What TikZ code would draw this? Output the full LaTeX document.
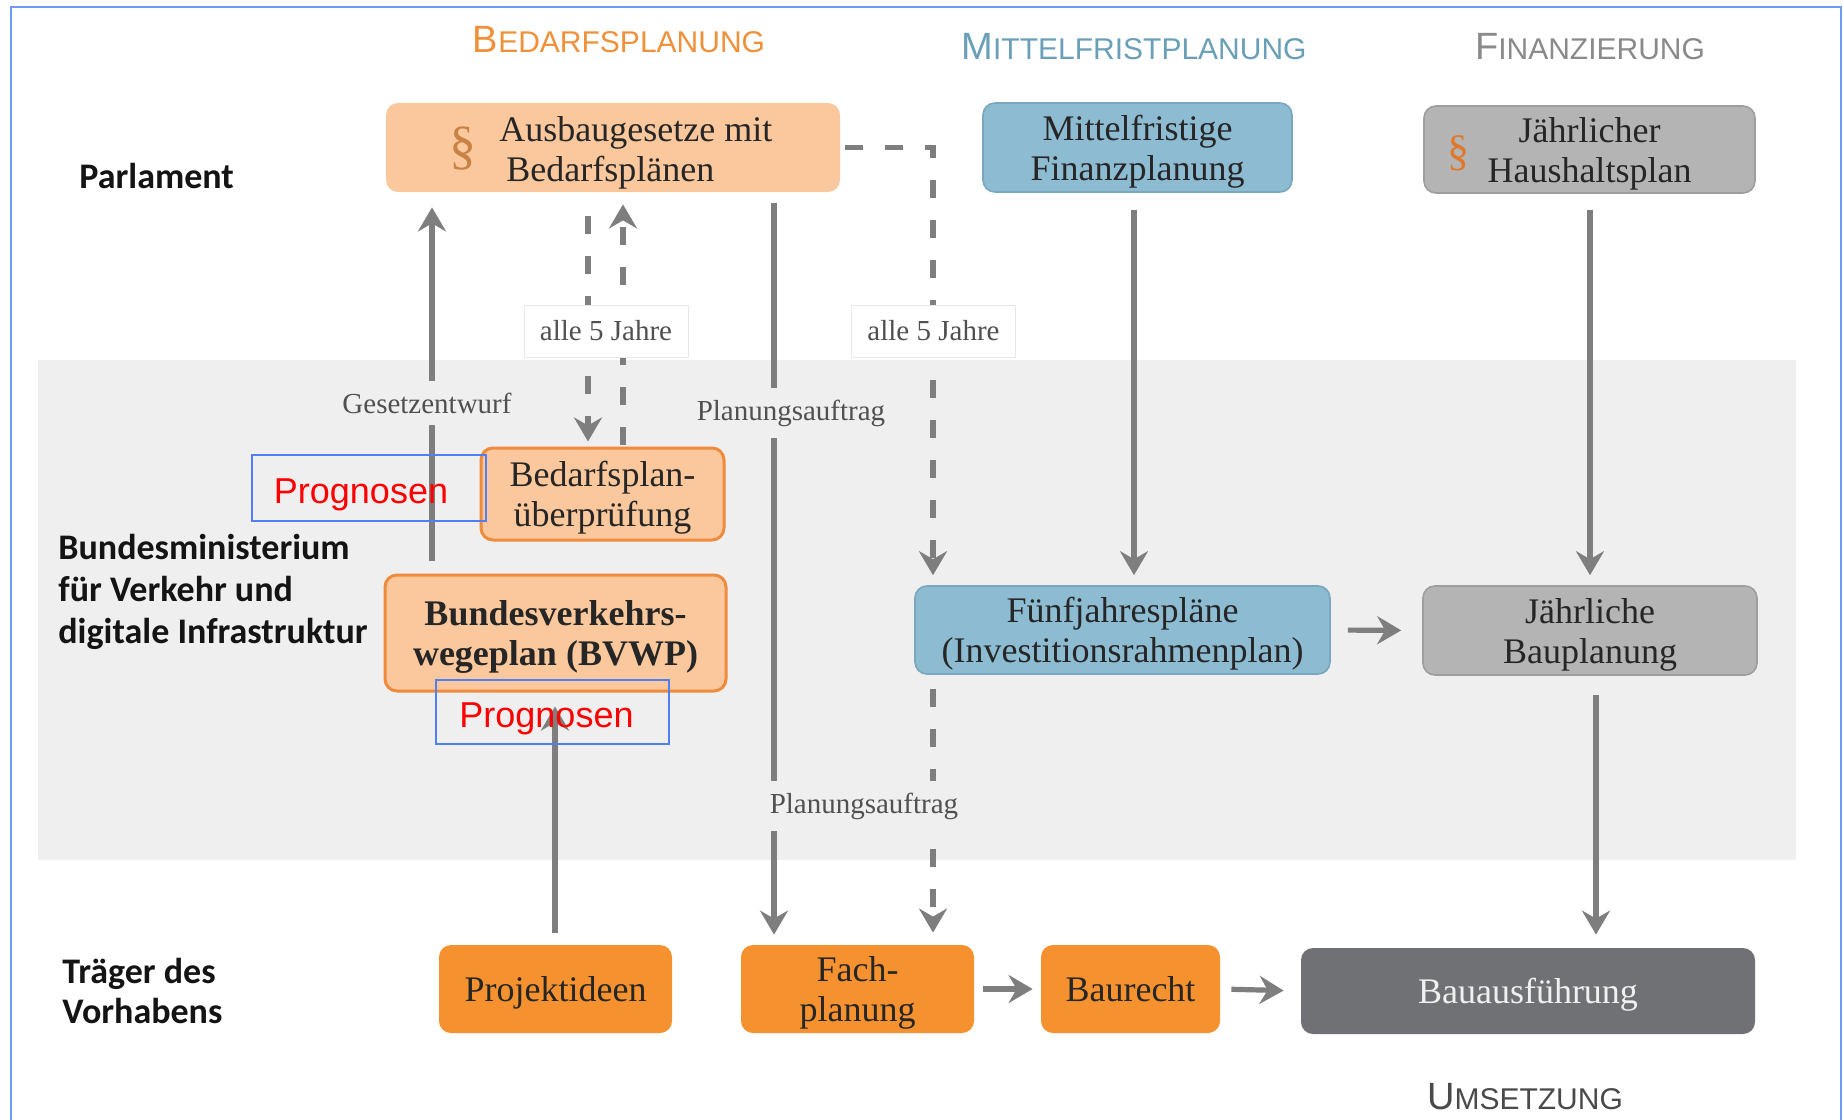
\documentclass[tikz,border=0pt]{standalone}
\usepackage{fontspec}
\setmainfont{Liberation Serif}
\newfontfamily\lsans{Liberation Sans}
\newfontfamily\carl{Carlito}
\usetikzlibrary{arrows.meta,calc}
\definecolor{band}{HTML}{EFEFEF}
\definecolor{peach}{HTML}{FAC89C}
\definecolor{peachline}{HTML}{EE8B3D}
\definecolor{orangebox}{HTML}{F5922F}
\definecolor{bluebox}{HTML}{8DBBD1}
\definecolor{blueline}{HTML}{79A7BE}
\definecolor{graybox}{HTML}{B4B4B4}
\definecolor{grayline}{HTML}{9E9E9E}
\definecolor{darkbox}{HTML}{6F7174}
\definecolor{arrgray}{HTML}{7E7E7E}
\definecolor{boxtext}{HTML}{262626}
\definecolor{lblgray}{HTML}{505050}
\definecolor{hdrorange}{HTML}{F0913A}
\definecolor{hdrblue}{HTML}{6A9FB8}
\definecolor{hdrgray}{HTML}{8A8A8A}
\definecolor{hdrdark}{HTML}{4A4A4A}
\definecolor{secbrown}{HTML}{C98245}
\definecolor{secorange}{HTML}{E0782C}
\definecolor{progblue}{HTML}{4F7FF2}
\definecolor{frameblue}{HTML}{6E9BF5}
\definecolor{rowblack}{HTML}{141414}
\newcommand\hdrsc[2]{{\fontsize{19}{20}\selectfont #1}{\fontsize{15}{20}\selectfont #2}}
\newcommand\topst{\rule{0pt}{17pt}}
\newcommand\botst{\rule[-4.5pt]{0pt}{4.5pt}}
\begin{document}
\begin{tikzpicture}[x=0.5pt,y=-0.5pt,
  box/.style={rounded corners=6pt, inner sep=0pt, align=center, text=boxtext,
    font=\fontsize{18}{20}\selectfont},
  peachbox/.style={box, fill=peach, draw=peachline, line width=1.5pt},
  bluebx/.style={box, fill=bluebox, draw=blueline, line width=0.8pt},
  graybx/.style={box, fill=graybox, draw=grayline, line width=0.8pt},
  orbx/.style={box, fill=orangebox},
  btxt/.style={inner sep=0pt, align=left, text=boxtext, font=\fontsize{18}{20}\selectfont},
  sec/.style={inner sep=0pt},
  arr/.style={draw=arrgray, line width=2.6pt, -{Stealth[length=12pt,width=14pt,inset=4pt]}},
  dsh/.style={arr, dash pattern=on 9pt off 11pt},
  lbl/.style={font=\fontsize{14.5}{16}\selectfont, text=lblgray, fill=band, inner xsep=3pt, inner ysep=6pt},
  lblw/.style={lbl, fill=white, draw=black!9, line width=0.5pt, minimum width=82pt, minimum height=26pt, inner ysep=0pt},
  prog/.style={draw=progblue, line width=1.3pt, text=red, font=\lsans\fontsize{18}{20}\selectfont, inner sep=0pt},
  rowlbl/.style={font=\carl\bfseries\fontsize{18}{21}\selectfont, align=left, anchor=west, inner sep=0pt, text=rowblack},
  hdr/.style={font=\lsans, inner sep=0pt}
]
\useasboundingbox (0,0) rectangle (1844,1120);
\fill[white] (0,0) rectangle (1844,1120);
\fill[band] (38,360) rectangle (1796,860);
\draw[frameblue, line width=1.2pt] (11,1120) -- (11,7) -- (1841,7) -- (1841,1120);

% headers
\node[hdr, text=hdrorange] (hbed) at (619,40) {\hdrsc{B}{EDARFSPLANUNG}};
\node[hdr, text=hdrblue] (hmit) at (1134,47) {\hdrsc{M}{ITTELFRISTPLANUNG}};
\node[hdr, text=hdrgray] (hfin) at (1590,47) {\hdrsc{F}{INANZIERUNG}};
\node[hdr, text=hdrdark] (hums) at (1525,1097) {\hdrsc{U}{MSETZUNG}};

% row labels
\node[rowlbl] (rparl) at (79,176) {Parlament};
\node[rowlbl] (rbm) at (58,592) {Bundesministerium\\für Verkehr und\\digitale Infrastruktur};
\node[rowlbl, font=\carl\bfseries\fontsize{18}{20}\selectfont] (rtr) at (62,991) {Träger des\\Vorhabens};

% boxes
\node[box, fill=peach, minimum width=227pt, minimum height=44.5pt] (aus) at (613,147.5) {};
\node[sec, text=secbrown, font=\fontsize{27}{27}\selectfont] (aussec) at (463,149) {\S};
\node[btxt, anchor=west] (austxt) at (499,153) {Ausbaugesetze mit\\\hspace*{3.5pt}Bedarfsplänen};

\node[bluebx, minimum width=154.5pt, minimum height=44.5pt] (mfp) at (1137.5,147.5) {\topst Mittelfristige\\Finanzplanung\botst};

\node[graybx, minimum width=165.5pt, minimum height=43.5pt] (jhp) at (1589.5,149.5) {\topst Jährlicher\\Haushaltsplan\botst};
\node[sec, text=secorange, font=\fontsize{22}{22}\selectfont] (jhpsec) at (1458,153) {\S};

\node[peachbox, minimum width=121.5pt, minimum height=46pt] (bpu) at (602.5,494) {\topst Bedarfsplan-\\überprüfung\botst};
\node[peachbox, minimum width=170.5pt, minimum height=58pt, font=\bfseries\fontsize{18}{20}\selectfont] (bvwp) at (555.5,633) {\topst Bundesverkehrs-\\wegeplan (BVWP)\botst};

\node[bluebx, minimum width=207.5pt, minimum height=44pt] (fjp) at (1122.5,630) {\topst Fünfjahrespläne\\(Investitionsrahmenplan)\botst};
\node[graybx, minimum width=167pt, minimum height=44.5pt] (jbp) at (1590,630.5) {\topst Jährliche\\Bauplanung\botst};

\node[orbx, minimum width=116.5pt, minimum height=44pt] (proj) at (555.5,989) {\topst Projektideen\botst};
\node[orbx, minimum width=116.5pt, minimum height=44pt] (fach) at (857.5,989) {\topst Fach-\\planung\botst};
\node[orbx, minimum width=89.5pt, minimum height=44pt] (baur) at (1130.5,989) {\topst Baurecht\botst};
\node[box, fill=darkbox, text=white!94!black, minimum width=227pt, minimum height=43pt] (baua) at (1528,991) {\topst Bauausführung\botst};

% x positions of vertical connectors
\coordinate (xg) at (432,0);
\coordinate (xda) at (588,0);
\coordinate (xdb) at (623,0);
\coordinate (xp) at (774,0);
\coordinate (xr) at (933,0);
\coordinate (xm) at (1134,0);
\coordinate (xh) at (1590,0);
\coordinate (xb) at (1596,0);
\coordinate (xpr) at (555,0);

% connectors
\draw[arr, shorten <=6.5pt, shorten >=7.5pt] (xg |- bvwp.north) -- (xg |- aus.south);
\draw[dsh, shorten <=12pt, shorten >=2.5pt] (xda |- aus.south) -- (xda |- bpu.north);
\draw[dsh, shorten <=1pt, shorten >=6pt] (xdb |- bpu.north) -- (xdb |- aus.south);
\draw[arr, shorten <=5.5pt, shorten >=5pt] (xp |- aus.south) -- (xp |- fach.north);
\draw[dsh, shorten <=2.5pt, shorten >=5pt] (aus.east) -- (xr |- aus.east) -- (xr |- fjp.north);
\draw[dsh, shorten <=7pt, shorten >=6pt] (xr |- fjp.south) -- (xr |- fach.north);
\draw[arr, shorten <=8.5pt, shorten >=5pt] (xm |- mfp.south) -- (xm |- fjp.north);
\draw[arr, shorten <=8pt, shorten >=5pt] (xh |- jhp.south) -- (xh |- jbp.north);
\draw[arr, shorten <=8.5pt, shorten >=10.5pt] (fjp.east) -- (jbp.west);
\draw[arr, shorten <=9.5pt, shorten >=6.5pt] (xb |- jbp.south) -- (xb |- baua.north);
\draw[arr, shorten <=6pt, shorten >=7pt] (xpr |- proj.north) -- (xpr |- bvwp.south);
\draw[arr, shorten <=4.5pt, shorten >=4pt] (fach.east) -- (baur.west);
\draw[arr, shorten <=5.5pt, shorten >=8.5pt] (baur.east) -- (baua.west);

% connector labels
\node[lbl] (lgesetz) at (427,403) {Gesetzentwurf};
\node[lbl] (lplana) at (791,413) {Planungsauftrag};
\node[lbl] (lplanb) at (864,806) {Planungsauftrag};
\node[lblw] (lfa) at (606,331) {alle 5 Jahre};
\node[lblw] (lfb) at (933.5,331) {alle 5 Jahre};

% annotations
\node[prog, minimum width=117pt, minimum height=33pt] (proga) at (369,488) {\rule{0pt}{19pt}Prognosen\hspace*{8pt}};
\node[prog, minimum width=116.5pt, minimum height=32pt] (progb) at (552.5,712) {\rule{0pt}{19pt}Prognosen\hspace*{6pt}};
\end{tikzpicture}
\end{document}
